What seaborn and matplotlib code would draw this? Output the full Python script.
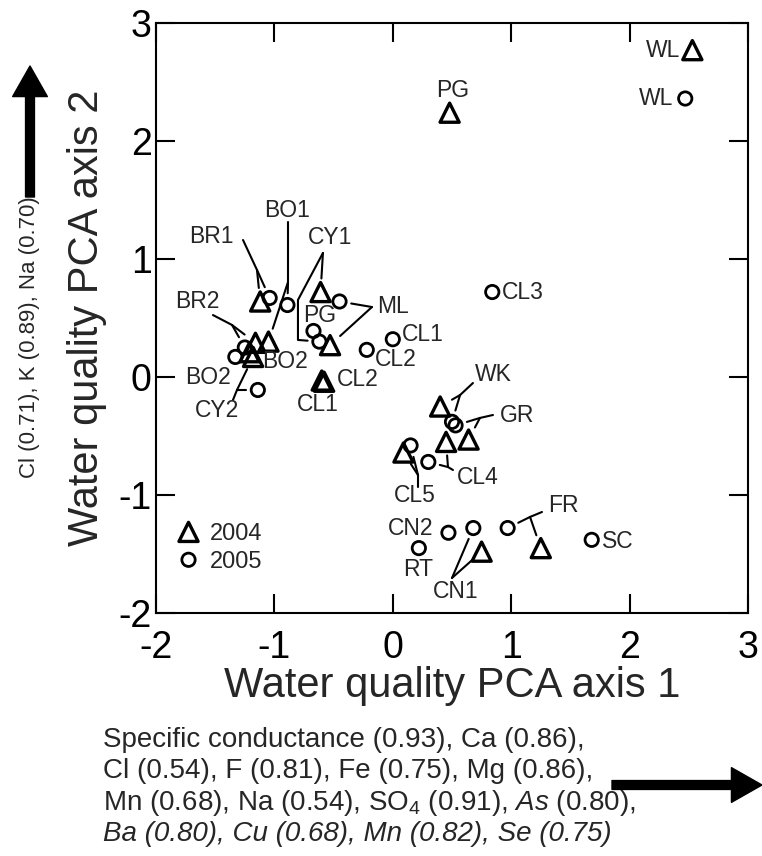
import numpy as np
import pandas as pd
import matplotlib
matplotlib.use("Agg")
import matplotlib.pyplot as plt
import seaborn as sns
from matplotlib.patches import FancyArrowPatch

# PCA scores per site
sites_2004 = ['WL', 'PG', 'BR1', 'CY1', 'ML', 'BO1', 'BR2', 'BO2', 'CY2', 'CL2', 'CL1',
              'WK', 'CL4', 'GR', 'CL5', 'CN1', 'FR']
pc1_2004 = [2.53, 0.48, -1.12, -0.61, -0.53, -1.05, -1.16, -1.21, -1.18, -0.60, -0.58,
            0.40, 0.45, 0.64, 0.09, 0.75, 1.25]
pc2_2004 = [2.77, 2.24, 0.64, 0.72, 0.27, 0.30, 0.29, 0.21, 0.17, -0.03, -0.04,
            -0.25, -0.55, -0.53, -0.64, -1.48, -1.45]

sites_2005 = ['WL', 'CL3', 'BR1', 'BO1', 'ML', 'PG', 'CY1', 'CL1', 'CL2', 'BR2', 'BO2',
              'CY2', 'WK', 'GR', 'CL5', 'CL4', 'CN2', 'CN1', 'FR', 'RT', 'SC']
pc1_2005 = [2.47, 0.84, -1.04, -0.89, -0.45, -0.67, -0.62, 0.00, -0.22, -1.25, -1.33,
            -1.14, 0.50, 0.53, 0.15, 0.30, 0.47, 0.68, 0.97, 0.22, 1.68]
pc2_2005 = [2.36, 0.72, 0.67, 0.61, 0.64, 0.39, 0.30, 0.32, 0.23, 0.25, 0.17,
            -0.11, -0.38, -0.41, -0.58, -0.72, -1.32, -1.28, -1.28, -1.45, -1.38]

ticks = [-2, -1, 0, 1, 2, 3]

# site labels: text, x, y, alignment
site_labels = [
    ('WL', 2.43, 2.77, 'right'), ('WL', 2.37, 2.36, 'right'), ('PG', 0.51, 2.43, 'center'),
    ('CL3', 0.92, 0.72, 'left'), ('CL1', 0.08, 0.36, 'left'), ('ML', -0.13, 0.60, 'left'),
    ('CL2', -0.15, 0.15, 'left'), ('PG', -0.76, 0.525, 'left'), ('BO1', -0.89, 1.415, 'center'),
    ('BR1', -1.53, 1.19, 'center'), ('CY1', -0.53, 1.18, 'center'), ('BR2', -1.65, 0.64, 'center'),
    ('BO2', -1.10, 0.13, 'left'), ('BO2', -1.56, 0.0, 'center'), ('CL2', -0.47, -0.02, 'left'),
    ('CL1', -0.63, -0.23, 'center'), ('CY2', -1.485, -0.28, 'center'), ('WK', 0.69, 0.025, 'left'),
    ('GR', 0.905, -0.33, 'left'), ('CL4', 0.54, -0.85, 'left'), ('CL5', 0.19, -1.0, 'center'),
    ('CN2', 0.15, -1.28, 'center'), ('RT', 0.21, -1.63, 'center'), ('CN1', 0.53, -1.82, 'center'),
    ('FR', 1.31, -1.09, 'left'), ('SC', 1.77, -1.39, 'left'),
]

# leader lines: start path, then one branch to each (year, site) point
leaders = [
    ([(-1.265, 1.161), (-1.147, 0.907)], [('2004', 'BR1', []), ('2005', 'BR1', [])]),
    ([(-0.885, 1.314), (-0.885, 0.805)], [('2005', 'BO1', []), ('2004', 'BO1', [])]),
    ([(-0.59, 1.051)], [('2004', 'CY1', []), ('2005', 'CY1', [(-0.801, 0.653), (-0.801, 0.314)])]),
    ([(-0.176, 0.593)], [('2005', 'ML', []), ('2004', 'ML', [])]),
    ([(-1.519, 0.525), (-1.358, 0.441)], [('2004', 'BR2', []), ('2005', 'BR2', [])]),
    ([(-1.35, -0.195), (-1.316, -0.11)], [('2004', 'CY2', []), ('2005', 'CY2', [])]),
    ([(0.677, -0.051), (0.568, -0.153)], [('2004', 'WK', []), ('2005', 'WK', [])]),
    ([(0.846, -0.322), (0.736, -0.347)], [('2005', 'GR', []), ('2004', 'GR', [])]),
    ([(0.508, -0.788), (0.466, -0.763)], [('2005', 'CL4', []), ('2004', 'CL4', [])]),
    ([(0.213, -0.932), (0.213, -0.831)], [('2005', 'CL5', []), ('2004', 'CL5', [])]),
    ([(0.50, -1.703)], [('2005', 'CN1', []), ('2004', 'CN1', [])]),
    ([(1.26, -1.144), (1.159, -1.186)], [('2005', 'FR', []), ('2004', 'FR', [])]),
]

sns.set_style("ticks")
plt.rcParams['font.family'] = ['Liberation Sans', 'DejaVu Sans']
plt.rcParams['mathtext.fontset'] = 'custom'
plt.rcParams['mathtext.rm'] = 'Liberation Sans'
plt.rcParams['mathtext.it'] = 'Liberation Sans:italic'
plt.rcParams['axes.unicode_minus'] = False

df04 = pd.DataFrame({'site': sites_2004, 'pc1': pc1_2004, 'pc2': pc2_2004})
df05 = pd.DataFrame({'site': sites_2005, 'pc1': pc1_2005, 'pc2': pc2_2005})
pts = {'2004': df04.set_index('site'), '2005': df05.set_index('site')}

fig = plt.figure(figsize=(7.62, 8.56), dpi=100)
ax = fig.add_axes([156 / 762, 1 - 613 / 856, 592 / 762, 590 / 856])

sns.scatterplot(data=df04, x='pc1', y='pc2', marker='^', s=190, facecolor='none',
                edgecolor='black', linewidth=2.4, ax=ax, label='2004', zorder=3)
sns.scatterplot(data=df05, x='pc1', y='pc2', marker='o', s=92, facecolor='none',
                edgecolor='black', linewidth=2.0, ax=ax, label='2005', zorder=3)

# leader lines
for path, targets in leaders:
    path = np.array(path)
    if len(path) > 1:
        ax.plot(path[:, 0], path[:, 1], color='black', lw=1.5, zorder=2)
    for year, site, bends in targets:
        tx, ty = pts[year].loc[site, 'pc1'], pts[year].loc[site, 'pc2']
        seg = [tuple(path[-1])] + list(bends)
        px, py = seg[-1]
        d = np.hypot(tx - px, ty - py)
        gap = 0.115 if year == '2004' else 0.1
        if d <= gap + 0.02:
            continue
        ex = tx - gap * (tx - px) / d
        ey = ty - gap * (ty - py) / d
        seg.append((ex, ey))
        seg = np.array(seg)
        ax.plot(seg[:, 0], seg[:, 1], color='black', lw=1.5, zorder=2)

for txt, x, y, ha in site_labels:
    ax.text(x, y, txt, ha=ha, va='center', fontsize=16.5, zorder=4)

ax.set_xlim(-2, 3)
ax.set_ylim(-2, 3)
ax.set_xticks(ticks)
ax.set_yticks(ticks)
ax.tick_params(direction='in', length=13.5, width=1.5, top=True, right=True,
               labelsize=27, colors='black')
ax.tick_params(axis='x', pad=12)
ax.tick_params(axis='y', pad=3)
for sp in ax.spines.values():
    sp.set_linewidth(1.5)
    sp.set_color('black')

ax.set_xlabel('Water quality PCA axis 1', fontsize=30, labelpad=0)
ax.set_ylabel('Water quality PCA axis 2', fontsize=30, labelpad=8)

ax.legend(loc='center left', bbox_to_anchor=(0.035, 0.110), frameon=False, fontsize=17,
          handlelength=1.0, handletextpad=0.4, labelspacing=0.25, borderpad=0,
          borderaxespad=0, scatterpoints=1, scatteryoffsets=[0.5])

arrow_style = 'simple,head_length=1.1,head_width=1.25,tail_width=0.32'

# loadings text and arrows
fig.text(30 / 762, 1 - 337 / 856, 'Cl (0.71), K (0.89), Na (0.70)', rotation=90,
         ha='center', va='center', fontsize=16)
fig.add_artist(FancyArrowPatch((30 / 762, 1 - 197 / 856), (30 / 762, 1 - 66 / 856),
                               transform=fig.transFigure, color='black', shrinkA=0, shrinkB=0,
                               arrowstyle=arrow_style, mutation_scale=20))

lines = [
    ('Specific conductance (0.93), Ca (0.86),', 'normal'),
    ('Cl (0.54), F (0.81), Fe (0.75), Mg (0.86),', 'normal'),
    (r'Mn (0.68), Na (0.54), SO$_4$ (0.91), $\mathit{As\ (0.80),}$', 'normal'),
    ('Ba (0.80), Cu (0.68), Mn (0.82), Se (0.75)', 'italic'),
]
baselines = [747, 778, 810, 841]
for (txt, style), b in zip(lines, baselines):
    fig.text(103 / 762, 1 - b / 856, txt, ha='left', va='baseline', fontsize=20,
             fontstyle=style)
fig.add_artist(FancyArrowPatch((612 / 762, 1 - 785 / 856), (1.0, 1 - 785 / 856),
                               transform=fig.transFigure, color='black', shrinkA=0, shrinkB=0,
                               arrowstyle=arrow_style, mutation_scale=20))

fig.savefig('out.png', dpi=100)
